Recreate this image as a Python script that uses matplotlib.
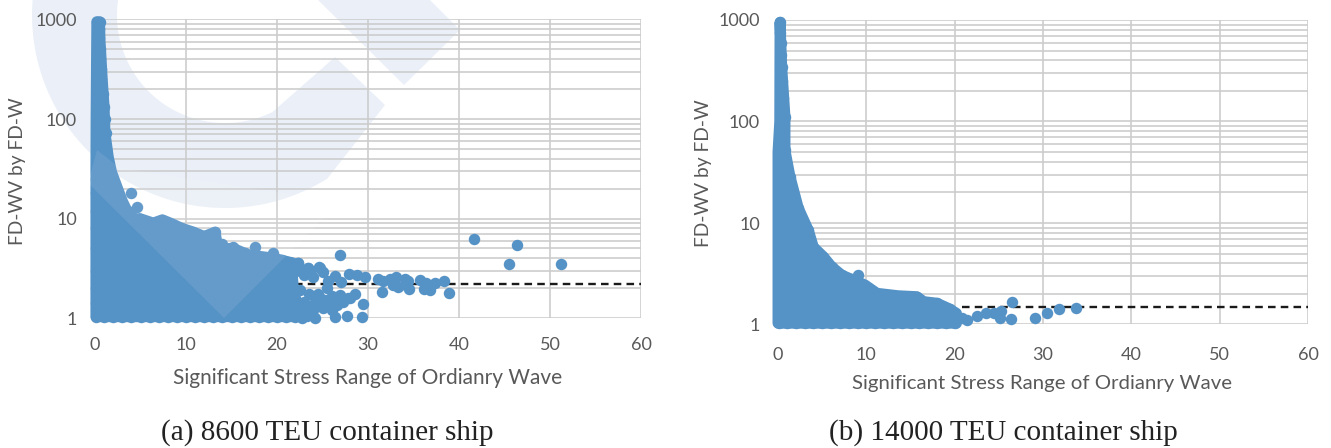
import numpy as np
import matplotlib
matplotlib.use("Agg")
import matplotlib.pyplot as plt
from matplotlib.patches import Polygon

W, H = 1331, 448
BLUE = "#5592C6"; GRID = "#CBCBCB"; TXT = "#595959"

# ---- data: panel (a) ----
a_env_x = [0.5,0.55,0.8,1.0,1.1,1.47,1.83,2.4,3.0,3.6,4.6,4.9,6.4,7.4,8.4,9.5,10.8,12.0,13.2,13.5,15.2,16.9,19.6,21.6,22.0]
a_env_y = [950,620,247,132,72,41,29,21,15,11.5,9.5,10,9,9.7,8.9,8,7.3,6.6,7.3,5,5.0,4.3,4.0,3.6,1.03]
a_left_x = [0.1,0.1,0.12,0.2]
a_left_y = [1.03,30,100,950]
a_col_x = [0.2,0.5,0.45,0.4,0.5,0.6,0.7,0.7,0.9,1.0,1.1,1.2,0.1,0.1,0.1,0.1,0.1,0.1,0.1,0.1,
           6.4,7.4,8.4,9.5,10.8,13.2,15.2,4.9,3.6,14.0,12.0,16.5,18.5,20.5,21.6,22.3]
a_col_y = [950,950,800,650,500,400,320,250,180,132,100,72,25,18,12,8,5,3,2,1.4,
           9,9.7,8.9,8,7.3,7.3,5.2,10,12,5.6,6.6,4.5,4.0,3.8,3.6,3.6]
a_bot_x = [0.1,1,2,3,4,5,6,7,8,9,10,11,12,13,14,15,16,17,18,19,20,21,22.0]
a_bot_y = [1.03]*23
a_out_x = [4.0,4.6,3.3,17.6,19.6,23.4,24.6,26.9,
           31.1,31.7,32.4,33.1,34.1,34.4,35.7,36.4,37.4,38.4,31.5,33.3,32.8,34.5,36.1,36.8,38.9,34.2,
           29.7,28.8,27.9,26.4,25.6,24.7,23.4,22.3,21.6,24.2,22.8,26.4,27.7,29.3,29.4,28.6,27.8,26.9,26.0,26.6,25.8,24.7,23.8,22.9,
           41.6,46.4,45.5,51.2,
           22.5,23.5,24.0,23.0,24.5,25.0,22.0,21.5,23.0,24.0,25.0,21.0,25.5,27.0,26.0,
           22.5,23.2,23.6,24.3,24.8,22.6,23.3,25.3,27.3,28.0]
a_out_y = [18,13,11.5,5.2,4.5,3.2,3.25,4.3,
           2.45,2.37,2.45,2.56,2.45,2.37,2.41,2.26,2.26,2.37,1.84,2.06,2.15,1.94,1.95,1.91,1.8,2.15,
           2.6,2.7,2.77,2.64,2.37,3.16,3.16,3.6,3.6,1.01,1.01,1.03,1.05,1.03,1.38,1.74,1.58,1.70,1.66,1.35,1.35,1.58,1.35,1.2,
           6.2,5.4,3.49,3.49,
           1.9,1.75,2.6,2.7,1.75,2.9,1.6,1.3,1.45,1.2,1.25,2.9,2.0,2.3,1.2,
           3.0,1.2,2.9,1.6,1.45,1.35,1.05,1.5,1.45,1.6]
a_ref = 2.2

# ---- data: panel (b) ----
b_env_x = [0.23,0.42,0.79,0.79,1.36,2.3,3.43,4.0,5.13,6.08,7.2,9.85,11.2,13.6,15.7,16.5,18.0,19.3,20.2,20.2]
b_env_y = [950,347,111,52,28.6,14,8.5,5.8,4.66,3.7,3.07,2.45,2.03,1.92,1.88,1.68,1.62,1.44,1.29,1.03]
b_left_x = [0.0,0.0,0.2,0.23]
b_left_y = [1.03,50,100,950]
b_col_x = [0.25,0.25,0.3,0.35,0.42,0.5,0.6,0.79,0.79,1.36,2.3,3.43,4.0,5.13,6.08,7.2,8.3]
b_col_y = [950,750,600,450,347,250,170,111,52,28.6,14,8.5,5.8,4.66,3.7,3.07,2.8]
b_bot_x = [0.1,1,2,3,4,5,6,7,8,9,10,11,12,13,14,15,16,17,18,19,20]
b_bot_y = [1.03]*21
b_out_x = [9.1,19.5,15.7,18.0,21.4,22.5,23.6,25.2,25.1,26.4,26.5,29.1,30.5,31.8,33.7,20.8,24.4]
b_out_y = [3.07,1.41,1.88,1.62,1.11,1.21,1.29,1.37,1.15,1.13,1.67,1.17,1.31,1.42,1.45,1.15,1.31]
b_ref = 1.48

x_ticks = [0,10,20,30,40,50,60]
y_ticks = [1,10,100,1000]
y_labels = ["1","10","100","1000"]
x_title = "Significant Stress Range of Ordianry Wave"
y_title = "FD-WV by FD-W"

plt.rcParams["font.family"] = ["Lato", "DejaVu Sans"]
fig = plt.figure(figsize=(W/100, H/100), dpi=100, facecolor="white")

def overlay(z):
    ax = fig.add_axes([0,0,1,1], zorder=z)
    ax.set_xlim(0,W); ax.set_ylim(H,0); ax.axis("off"); ax.patch.set_alpha(0)
    return ax

# faint watermark behind the charts
bg = overlay(0)
cx, cy = 225, 15
t_out = np.radians(np.linspace(58, 190, 80))
t_in = np.radians(np.linspace(190, 64, 80))
ring = np.r_[[(385,105)], np.c_[cx+193*np.cos(t_out), cy+193*np.sin(t_out)],
             np.c_[cx+108*np.cos(t_in), cy+108*np.sin(t_in)], [(335,57)]]
bg.add_patch(Polygon(ring, closed=True, fc="#EBF0F8", ec="none"))
bg.add_patch(Polygon([(318,0),(430,0),(460,30),(404,85)], closed=True, fc="#EBF0F8", ec="none"))

def panel(x0, x1, ytop, ybot, env_x, env_y, left_x, left_y, col_x, col_y, bot_x, bot_y, out_x, out_y, ref, ref_start, xpad):
    ax = fig.add_axes([x0/W, 1-ybot/H, (x1-x0)/W, (ybot-ytop)/H], zorder=1)
    ax.patch.set_alpha(0)
    ax.set_yscale("log")
    ax.set_xlim(0,60); ax.set_ylim(1,1000)
    ax.set_xticks(x_ticks); ax.set_yticks(y_ticks); ax.set_yticklabels(y_labels)
    ax.yaxis.set_minor_locator(matplotlib.ticker.LogLocator(base=10, subs=range(2,10)))
    ax.yaxis.set_minor_formatter(matplotlib.ticker.NullFormatter())
    ax.grid(True, which="major", color=GRID, lw=1.15)
    ax.grid(True, which="minor", axis="y", color=GRID, lw=1.15)
    ax.set_axisbelow(True)
    ax.tick_params(which="both", length=0, labelsize=13, labelcolor=TXT)
    ax.tick_params(axis="x", pad=xpad)
    ax.tick_params(axis="y", pad=13)
    for s in ax.spines.values(): s.set_visible(False)
    ax.plot([ref_start,60],[ref,ref], color="#1a1a1a", ls=(0,(3.2,2.2)), lw=1.7, zorder=2)
    # the dense cloud: outline of the region the overlapping points cover
    ax.fill(list(left_x)+list(env_x), list(left_y)+list(env_y), fc=BLUE, ec=BLUE,
            lw=7.9, joinstyle="round", zorder=3, clip_on=False)
    ax.scatter(list(col_x)+list(bot_x)+list(out_x),
               list(col_y)+list(bot_y)+list(out_y),
               s=68, color=BLUE, lw=0, zorder=3, clip_on=False)
    return ax

panel(95,641,19.5,318,a_env_x,a_env_y,a_left_x,a_left_y,a_col_x,a_col_y,a_bot_x,a_bot_y,a_out_x,a_out_y,a_ref,22,14)
panel(778,1308,20,324.5,b_env_x,b_env_y,b_left_x,b_left_y,b_col_x,b_col_y,b_bot_x,b_bot_y,b_out_x,b_out_y,b_ref,20.8,16)

# the watermark's translucent lighter strip over the points
top = overlay(5)
top.add_patch(Polygon([(88,183),(224,318),(340,202),(120,168),(97,150)], closed=True, fc="white", alpha=0.09, ec="none"))

def px(x, y, s, **k):
    fig.text(x/W, 1-y/H, s, ha="center", va="center", **k)

px(368,378,x_title,fontsize=15,color=TXT)
px(1042,383,x_title,fontsize=14.7,color=TXT)
px(18,171,y_title,fontsize=13.8,color=TXT,rotation=90)
px(704,173,y_title,fontsize=13.8,color=TXT,rotation=90)
serif = ["Liberation Serif","DejaVu Serif"]
px(327,433,"(a) 8600 TEU container ship",fontsize=21,color="#222222",family=serif)
px(1003,433,"(b) 14000 TEU container ship",fontsize=21,color="#222222",family=serif)

fig.savefig("out.png", dpi=100, facecolor="white")
